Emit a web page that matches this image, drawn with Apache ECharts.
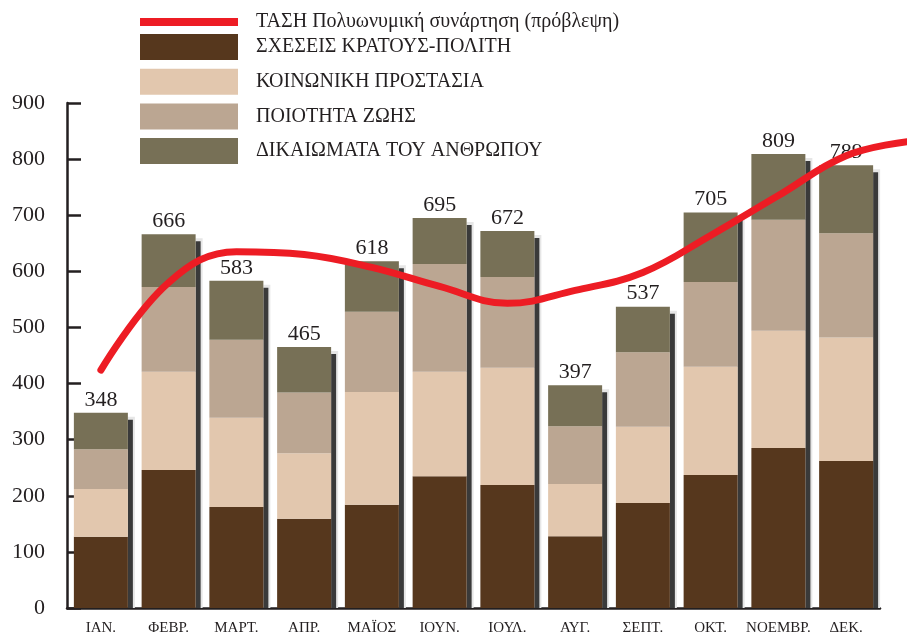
<!DOCTYPE html>
<html>
<head>
<meta charset="utf-8">
<script src="https://cdn.jsdelivr.net/npm/echarts@6/dist/echarts.min.js"></script>
<style>
  html, body { margin: 0; padding: 0; background: #fff; }
  #chart { width: 907px; height: 636px; }
</style>
</head>
<body>
<div id="chart"></div>
<script>
// μήνες (κατηγορίες του άξονα x)
var months = ['ΙΑΝ.', 'ΦΕΒΡ.', 'ΜΑΡΤ.', 'ΑΠΡ.', 'ΜΑΪΟΣ', 'ΙΟΥΝ.', 'ΙΟΥΛ.', 'ΑΥΓ.', 'ΣΕΠΤ.', 'ΟΚΤ.', 'ΝΟΕΜΒΡ.', 'ΔΕΚ.'];

// τμήματα κάθε στήλης, από κάτω προς τα πάνω
var relations  = [127, 246, 180, 159, 184, 235, 219, 128, 187, 237, 285, 262];
var protection = [85, 175, 159, 117, 201, 186, 209, 93, 136, 193, 209, 220];
var quality    = [71, 151, 139, 108, 143, 192, 162, 103, 133, 151, 198, 186];
var rights     = [65, 94, 105, 81, 90, 82, 82, 73, 81, 124, 117, 121];

// σύνολα (ετικέτες πάνω από τις στήλες)
var totals = [348, 666, 583, 465, 618, 695, 672, 397, 537, 705, 809, 789];

// τάση - πολυωνυμική (θέση σε μήνες, τιμή)
var trendX = [0, 1, 2, 3, 4, 5, 6, 7, 8, 9, 10, 11, 11.9];
var trendY = [424, 580, 635, 630, 607, 573, 543, 566, 598, 664, 735, 806, 831];

var yTicks = [0, 100, 200, 300, 400, 500, 600, 700, 800, 900];

var serif = '"Liberation Serif", "DejaVu Serif", serif';
var ink = '#231f20';

var names = ['ΤΑΣΗ Πολυωνυμική συνάρτηση (πρόβλεψη)', 'ΣΧΕΣΕΙΣ ΚΡΑΤΟΥΣ-ΠΟΛΙΤΗ', 'ΚΟΙΝΩΝΙΚΗ ΠΡΟΣΤΑΣΙΑ', 'ΠΟΙΟΤΗΤΑ ΖΩΗΣ', 'ΔΙΚΑΙΩΜΑΤΑ ΤΟΥ ΑΝΘΡΩΠΟΥ'];
var colors = ['#ed1c24', '#56371d', '#e2c7ae', '#bba692', '#777056'];

var myChart = echarts.init(document.getElementById('chart'));

function stack(name, data, color) {
  return {
    name: name,
    type: 'bar',
    stack: 'all',
    barWidth: 54,
    z: 2,
    itemStyle: { color: color },
    data: data
  };
}

var legendText = { fontFamily: serif, fontSize: 20, color: ink, padding: [0, 0, 0, 13] };

// ο δεύτερος "πλέγμα" φτάνει ως την άκρη, για να βγαίνει η καμπύλη έξω από τον άξονα
var bandsToEdge = (907 - 67) / ((907 - 67 - 27) / months.length);

var option = {
  animation: false,
  textStyle: { fontFamily: serif },
  legend: [{
    data: [names[0]],
    left: 140,
    top: 12,
    padding: 0,
    icon: 'rect',
    itemWidth: 98,
    itemHeight: 8,
    selectedMode: false,
    textStyle: legendText
  }, {
    data: names.slice(1),
    orient: 'vertical',
    left: 140,
    top: 34,
    padding: 0,
    icon: 'rect',
    itemWidth: 98,
    itemHeight: 26,
    itemGap: 8.7,
    selectedMode: false,
    textStyle: legendText
  }],
  grid: [
    { left: 67, right: 27, top: 103, bottom: 28 },
    { left: 67, right: 0, top: 103, bottom: 28 }
  ],
  xAxis: [{
    type: 'category',
    gridIndex: 0,
    data: months,
    axisLine: { lineStyle: { color: ink, width: 2.5 } },
    axisTick: { inside: true, length: 13, lineStyle: { color: ink, width: 2.5 } },
    axisLabel: { interval: 0, fontFamily: serif, fontSize: 15, color: ink, margin: 13 }
  }, {
    type: 'value',
    gridIndex: 1,
    min: -0.5,
    max: bandsToEdge - 0.5,
    show: false
  }],
  yAxis: [{
    type: 'value',
    gridIndex: 0,
    min: yTicks[0],
    max: yTicks[yTicks.length - 1],
    interval: 100,
    axisLine: { show: true, onZero: false, lineStyle: { color: ink, width: 2.5 } },
    axisTick: { show: true, inside: true, length: 14, lineStyle: { color: ink, width: 2.5 } },
    axisLabel: { fontFamily: serif, fontSize: 22, color: ink, margin: 22 },
    splitLine: { show: false }
  }, {
    type: 'value',
    gridIndex: 1,
    min: yTicks[0],
    max: yTicks[yTicks.length - 1],
    show: false
  }],
  series: [
    {
      // σκιά δεξιά από κάθε στήλη
      type: 'custom',
      z: 1,
      silent: true,
      data: totals.map(function (t, i) { return [i, t]; }),
      renderItem: function (params, api) {
        var top = api.coord([api.value(0), api.value(1)]);
        var base = api.coord([api.value(0), 0]);
        var x = top[0] + 27;
        return {
          type: 'group',
          children: [{
            type: 'rect',
            shape: { x: x, y: top[1] + 4, width: 7, height: base[1] - top[1] - 4 },
            style: { fill: '#e6e6e6' }
          }, {
            type: 'rect',
            shape: { x: x, y: top[1] + 7, width: 5, height: base[1] - top[1] - 7 },
            style: { fill: '#3a3a3a' }
          }]
        };
      }
    },
    stack(names[1], relations, colors[1]),
    stack(names[2], protection, colors[2]),
    stack(names[3], quality, colors[3]),
    {
      name: names[4],
      type: 'bar',
      stack: 'all',
      barWidth: 54,
      z: 2,
      itemStyle: { color: colors[4] },
      label: {
        show: true,
        position: 'top',
        distance: 2,
        fontFamily: serif,
        fontSize: 22,
        color: ink,
        formatter: function (p) { return totals[p.dataIndex]; }
      },
      data: rights
    },
    {
      name: names[0],
      type: 'line',
      xAxisIndex: 1,
      yAxisIndex: 1,
      z: 5,
      smooth: 0.4,
      clip: false,
      symbol: 'none',
      itemStyle: { color: colors[0] },
      lineStyle: { color: colors[0], width: 7, cap: 'round' },
      data: trendX.map(function (x, i) { return [x, trendY[i]]; })
    }
  ]
};

myChart.setOption(option);
</script>
</body>
</html>
